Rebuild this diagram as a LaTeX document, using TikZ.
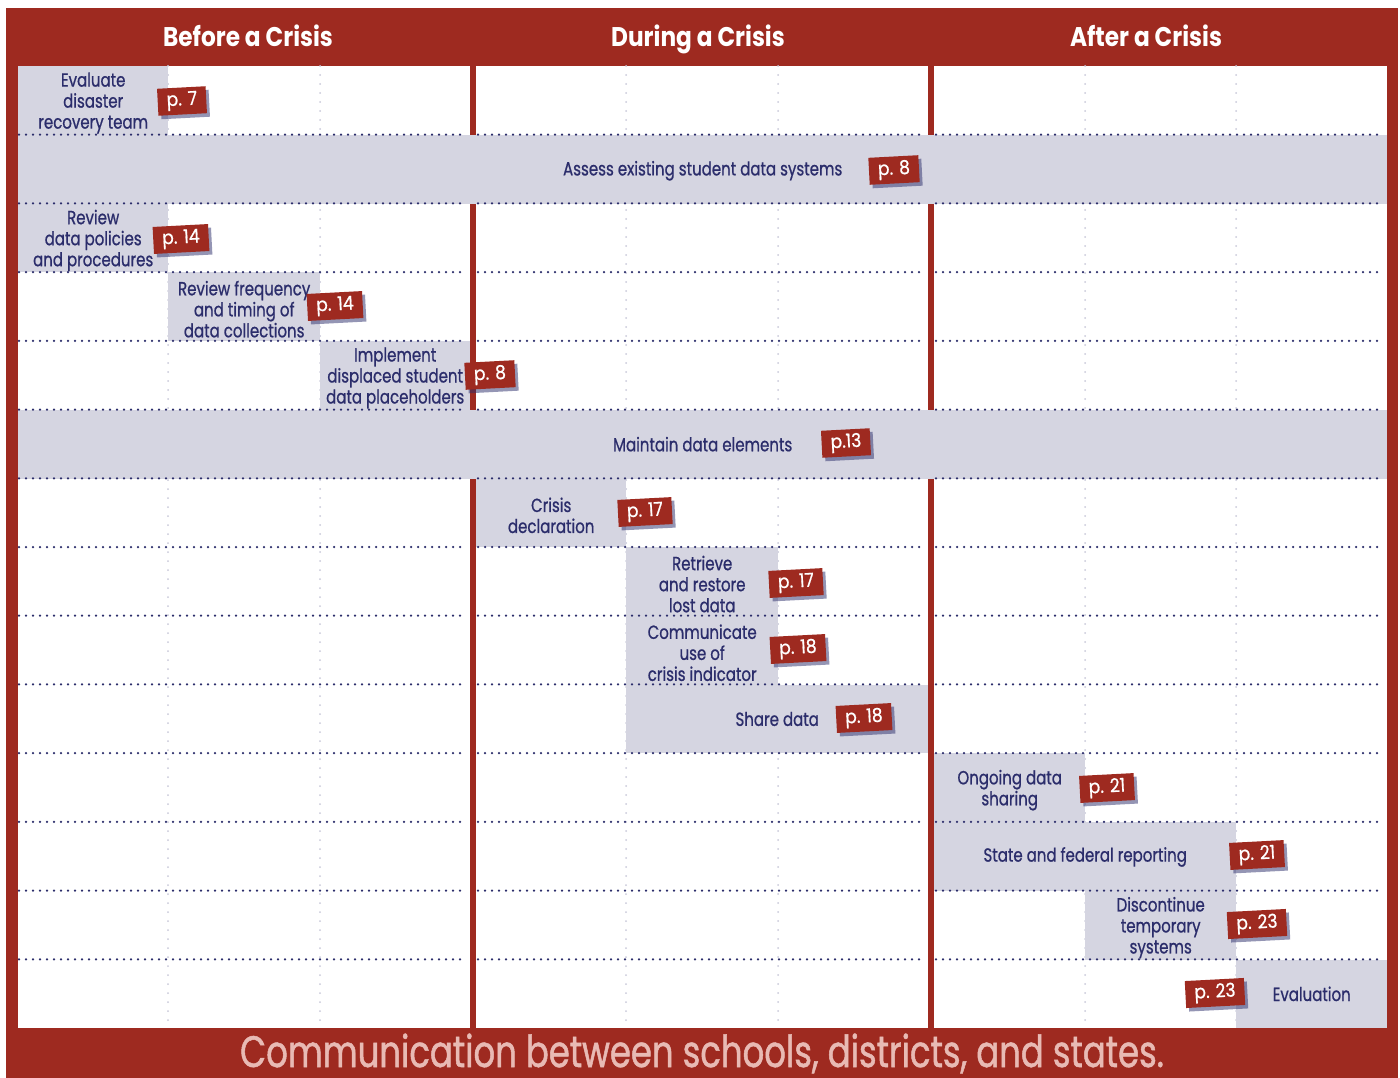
\documentclass[tikz,border=0pt]{standalone}
\usepackage{fontspec}
\setmainfont{Poppins}[FakeStretch=0.79, FakeBold=0.8]
\newfontfamily\labfont{Poppins}[FakeStretch=0.9, FakeBold=0.8]
\newfontfamily\headfont{Poppins}[FakeStretch=0.86]
\newfontfamily\footfont{Poppins}[FakeStretch=0.77, FakeBold=1.1]
\usetikzlibrary{shadows}
\definecolor{crimson}{HTML}{9E2A20}
\definecolor{navy}{HTML}{2B2D6B}
\definecolor{bargray}{HTML}{D5D5E1}
\definecolor{gridgray}{HTML}{C9C9DA}
\definecolor{pinktext}{HTML}{E8BAB4}
\tikzset{
  barfill/.style={fill=bargray, inner sep=0pt, anchor=north west, minimum height=68.7pt},
  bartext/.style={inner sep=0pt, align=center, text=navy, font=\fontsize{19}{21}\selectfont},
  pg/.style={fill=crimson, text=white, rotate=3, inner xsep=9pt, inner ysep=0pt,
    minimum height=27pt, font=\labfont\fontsize{19}{21}\selectfont,
    drop shadow={shadow xshift=3pt, shadow yshift=-3.5pt, fill=navy, opacity=.5}},
  head/.style={text=white, anchor=base, font=\headfont\bfseries\fontsize{27}{30}\selectfont},
  foot/.style={text=pinktext, anchor=base, inner sep=0pt, text depth=0pt,
    font=\footfont\fontsize{44}{48}\selectfont},
  hgrid/.style={navy, line width=2.5pt, line cap=round, dash pattern=on 0pt off 7pt},
  vgrid/.style={gridgray, line width=2pt, line cap=round, dash pattern=on 0pt off 9pt},
}
\newcommand\planbar[5]{%
  \node[barfill, minimum width=#3] (#1) at (#2) {};
  \node[bartext] (#1t) at ([yshift=#4]#1.center) {#5};}
\begin{document}
\begin{tikzpicture}[x=1pt,y=-1pt]
\useasboundingbox (0,0) rectangle (1400,1078);
\fill[white] (0,0) rectangle (1400,1078);
\fill[crimson] (6,8) rectangle (1398,1078);
\fill[white] (18,66) rectangle (470,1028);
\fill[white] (476,66) rectangle (928,1028);
\fill[white] (934,66) rectangle (1387,1028);
\foreach \x in {168,320,626,778,1085,1236}
  \draw[vgrid] (\x,66) -- (\x,1028);
% bars
\planbar{b1}{18,66}{150pt}{-2.5pt}{Evaluate\\disaster\\recovery team}
\planbar{b2}{18,134.7}{1369pt}{-1.5pt}{Assess existing student data systems}
\planbar{b3}{18,203.4}{150pt}{-2.5pt}{Review\\data policies\\and procedures}
\planbar{b4}{168,272.1}{152pt}{-2.5pt}{Review frequency\\and timing of\\data collections}
\planbar{b5}{320,340.9}{150pt}{-2.5pt}{Implement\\displaced student\\data placeholders}
\planbar{b6}{18,409.6}{1369pt}{0pt}{Maintain data elements}
\planbar{b7}{476,478.3}{150pt}{-2.5pt}{Crisis\\declaration}
\planbar{b8}{626,547}{152pt}{-2.5pt}{Retrieve\\and restore\\lost data}
\planbar{b9}{626,615.7}{152pt}{-2.5pt}{Communicate\\use of\\crisis indicator}
\planbar{b10}{626,684.4}{302pt}{0pt}{Share data}
\planbar{b11}{934,753.1}{151pt}{-2.5pt}{Ongoing data\\sharing}
\planbar{b12}{934,821.9}{302pt}{-0.5pt}{State and federal reporting}
\planbar{b13}{1085,890.6}{151pt}{-2.5pt}{Discontinue\\temporary\\systems}
\planbar{b14}{1236,959.3}{151pt}{0pt}{Evaluation}
% horizontal dotted lines
\foreach \y in {134.7,203.4,272.1,340.9,409.6,478.3,547,615.7,684.4,753.1,821.9,890.6,959.3}{
  \draw[hgrid] (19,\y) -- (464,\y);
  \draw[hgrid] (478,\y) -- (922,\y);
  \draw[hgrid] (936,\y) -- (1381,\y);
}
% page labels
\node[pg] (p1) at (182,101) {p. 7};
\node[pg] (p2) at (894,170) {p. 8};
\node[pg] (p3) at (181,239) {p. 14};
\node[pg] (p4) at (335,306) {p. 14};
\node[pg] (p5) at (490,375) {p. 8};
\node[pg] (p6) at (846,443) {p.13};
\node[pg] (p7) at (645,512) {p. 17};
\node[pg] (p8) at (796,583) {p. 17};
\node[pg] (p9) at (798,649) {p. 18};
\node[pg] (p10) at (864,718) {p. 18};
\node[pg] (p11) at (1107,788) {p. 21};
\node[pg] (p12) at (1257,855) {p. 21};
\node[pg] (p13) at (1257,924) {p. 23};
\node[pg] (p14) at (1215,993) {p. 23};
% headers and footer
\node[head] (h1) at (248,47) {Before a Crisis};
\node[head] (h2) at (698,47) {During a Crisis};
\node[head] (h3) at (1146,47) {After a Crisis};
\node[foot] (ft) at (702,1067) {Communication between schools, districts, and states.};
\end{tikzpicture}
\end{document}
